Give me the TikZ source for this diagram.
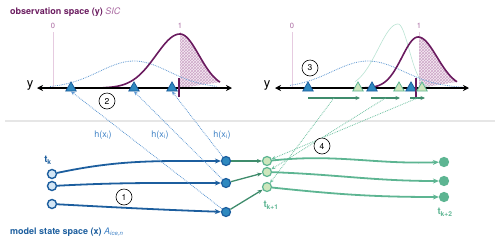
\documentclass[tikz,border=0pt]{standalone}
\usepackage{fontspec}
\setmainfont{TeX Gyre Heros}
\usepackage{tikz}
\usetikzlibrary{positioning,arrows.meta,shapes.geometric,patterns}
\definecolor{obsp}{HTML}{6A1B5F}
\definecolor{obspl}{HTML}{A8679F}
\definecolor{pinkln}{HTML}{E6CBE0}
\definecolor{hatch}{HTML}{CDA6C8}
\definecolor{hatchbg}{HTML}{F6ECF3}
\definecolor{modb}{HTML}{1C5E9E}
\definecolor{modbl}{HTML}{3F82C6}
\definecolor{nodeb}{HTML}{2E89BF}
\definecolor{nodebg}{HTML}{D3E6F5}
\definecolor{dotb}{HTML}{5F98D2}
\definecolor{anag}{HTML}{5DB592}
\definecolor{anagd}{HTML}{3F8C6C}
\definecolor{anabg}{HTML}{CDE6BC}
\definecolor{dotg}{HTML}{6CC09F}
\definecolor{faintg}{HTML}{B9E3D3}
\definecolor{sepgray}{HTML}{E6E6E6}
\tikzset{
  ens/.style={circle,draw=modb,fill=nodebg,line width=1.4pt,inner sep=0pt,minimum size=9pt},
  fcst/.style={circle,draw=modb,fill=nodeb,line width=1.2pt,inner sep=0pt,minimum size=9pt},
  anal/.style={circle,draw=anag,fill=anabg,line width=1.2pt,inner sep=0pt,minimum size=9pt},
  nxt/.style={circle,draw=anag,fill=anag,line width=1.2pt,inner sep=0pt,minimum size=9pt},
  trib/.style={regular polygon,regular polygon sides=3,draw=modb,fill=nodeb,line width=0.8pt,
    inner sep=0pt,minimum size=12pt},
  trig/.style={regular polygon,regular polygon sides=3,draw=anag,fill=anabg,line width=0.8pt,
    inner sep=0pt,minimum size=12pt},
  stp/.style={circle,draw=black,fill=white,line width=0.6pt,inner sep=0pt,minimum size=16pt,
    font=\fontsize{8.5}{8}\selectfont},
  yax/.style={{Stealth[length=6pt,width=6pt]}-{Stealth[length=6pt,width=6pt]},line width=1.6pt},
  runb/.style={-{Stealth[length=6pt,width=5pt]},line width=1.8pt,draw=modb},
  rung/.style={-{Stealth[length=6pt,width=5pt]},line width=1.8pt,draw=anag},
  shortg/.style={-{Stealth[length=5pt,width=4pt]},line width=1.3pt,draw=anagd},
  incr/.style={-{Stealth[length=4.5pt,width=4pt]},line width=1.3pt,draw=anagd},
  hop/.style={-{Stealth[length=4pt,width=3.5pt]},densely dotted,draw=dotb,line width=0.8pt},
  hopg/.style={-{Stealth[length=4pt,width=3.5pt]},densely dotted,draw=dotg,line width=0.8pt},
  lblb/.style={font=\fontsize{9}{9}\selectfont,text=modbl},
  lbltb/.style={font=\fontsize{9.5}{9}\selectfont\bfseries,text=modb},
  lbltg/.style={font=\fontsize{9.5}{9}\selectfont\bfseries,text=anag},
  tick/.style={font=\fontsize{7.5}{7}\selectfont,text=obspl},
}
\begin{document}
\begin{tikzpicture}[x=1pt,y=-1pt]
  \useasboundingbox (0,0) rectangle (500,242);
  % titles
  \node[anchor=west,inner sep=0pt,font=\fontsize{9}{10}\selectfont] (ttl) at (10,12)
    {\textcolor{obsp}{\bfseries observation space (y)} \textcolor{obspl}{\itshape SIC}};
  \node[anchor=west,inner sep=0pt,font=\fontsize{9}{10}\selectfont] (mdl) at (10,232)
    {\textcolor{modb}{\bfseries model state space (x)} \textcolor{modbl}{\itshape A\textsubscript{ice,n}}};
  \draw[sepgray,line width=1.5pt] (5,121) -- (495,121);

  % left panel
  \fill[hatchbg,postaction={pattern=crosshatch,pattern color=hatch}]
    (180,88) -- plot[domain=180:220,samples=40] (\x,{88-54*exp(-((\x-180)^2)/722)}) -- cycle;
  \draw[pinkln,line width=0.8pt] (53,32) -- (53,88);
  \draw[pinkln,line width=0.8pt] (180,32) -- (180,40);
  \node[tick] (z1) at (53,26) {0};
  \node[tick] (o1) at (180,26) {1};
  \draw[dotb,densely dotted,line width=0.8pt]
    plot[domain=50:217,samples=60] (\x,{88-27*exp(-((\x-134)^2)/2450)});
  \draw[obsp,line width=1.6pt]
    plot[domain=103:180,samples=50] (\x,{88-54*exp(-((\x-180)^2)/1152)})
    -- plot[domain=180:220,samples=40] (\x,{88-54*exp(-((\x-180)^2)/722)});
  \draw[yax] (232,88) -- (37,88);
  \node[font=\fontsize{13}{13}\selectfont] (y1) at (30,86) {y};
  \node[trib] (hb1) at (71,88) {};
  \node[trib] (hb2) at (134,88) {};
  \node[trib] (hb3) at (172,88) {};
  \draw[obsp,line width=1.4pt] (179,78) -- (179,97);
  \node[stp] (s2) at (107,101) {2};

  % right panel
  \fill[hatchbg,postaction={pattern=crosshatch,pattern color=hatch}]
    (419,88) -- plot[domain=419:457,samples=40] (\x,{88-51*exp(-((\x-418)^2)/722)}) -- cycle;
  \draw[pinkln,line width=0.8pt] (292,32) -- (292,88);
  \draw[pinkln,line width=0.8pt] (419,32) -- (419,40);
  \node[tick] (z2) at (292,26) {0};
  \node[tick] (o2) at (419,26) {1};
  \draw[faintg,line width=0.6pt]
    plot[domain=355:398,samples=40] (\x,{88-64*exp(-((\x-398)^2)/800)})
    -- plot[domain=398:432,samples=40] (\x,{88-64*exp(-((\x-398)^2)/242)});
  \draw[dotb,densely dotted,line width=0.8pt]
    plot[domain=290:463,samples=60] (\x,{88-27*exp(-((\x-368)^2)/2592)});
  \draw[obsp,line width=1.6pt]
    plot[domain=340:418,samples=50] (\x,{88-51*exp(-((\x-418)^2)/512)})
    -- plot[domain=418:457,samples=40] (\x,{88-51*exp(-((\x-418)^2)/722)});
  \draw[yax] (469,88) -- (275,88);
  \node[font=\fontsize{13}{13}\selectfont] (y2) at (267,86) {y};
  \node[trib] (rb1) at (308,88) {};
  \node[trib] (rb2) at (372,88) {};
  \node[trib] (rb3) at (411,88) {};
  \draw[obsp,line width=1.4pt] (416,78) -- (416,97);
  \node[trig] (ha1) at (358,88) {};
  \node[trig] (ha2) at (399,88) {};
  \node[trig] (ha3) at (422,88) {};
  \draw[incr] (308,98) -- coordinate (m1) (360,98);
  \draw[incr] (371,98) -- coordinate (m2) (400,98);
  \draw[incr] (410,98) -- coordinate (m3) (425,98);
  \node[stp] (s3) at (310,68) {3};

  % model states
  \node[ens] (xk1) at (52,174) {};
  \node[ens] (xk2) at (52,186) {};
  \node[ens] (xk3) at (52,204) {};
  \node[fcst] (xf1) at (226,161) {};
  \node[fcst] (xf2) at (226,183) {};
  \node[fcst] (xf3) at (226,212) {};
  \node[anal] (xa1) at (267,161) {};
  \node[anal] (xa2) at (267,172) {};
  \node[anal] (xa3) at (267,187) {};
  \node[nxt] (xn1) at (444,162) {};
  \node[nxt] (xn2) at (444,181) {};
  \node[nxt] (xn3) at (444,197) {};
  \node[lbltb] (tk) at (48,160) {t\textsubscript{k}};
  \node[lbltg] (tk1) at (271,205) {t\textsubscript{k+1}};
  \node[lbltg] (tk2) at (445,212) {t\textsubscript{k+2}};

  % forecast
  \draw[runb] (xk1) to[out=12,in=180] (xf1);
  \draw[runb] (xk2) to[out=3,in=180] (xf2);
  \draw[runb] (xk3) to[out=-3,in=178] (xf3);
  \node[stp] (s1) at (124,197) {1};

  % observation operator
  \draw[hop] (xf1) -- (hb3.south);
  \draw[hop] (xf2) -- (hb2.south);
  \draw[hop] (xf3) -- (hb1.south);
  \node[lblb] (h1) at (103,135) {h(x\textsubscript{i})};
  \node[lblb] (h2) at (160,135) {h(x\textsubscript{i})};
  \node[lblb] (h3) at (222,135) {h(x\textsubscript{i})};

  % update
  \draw[shortg] (xf1) -- (xa1);
  \draw[shortg] (xf2) -- (xa2);
  \draw[shortg] (xf3) -- (xa3);
  \draw[hopg] (m1) -- (xa3);
  \draw[hopg] (m2) -- (xa2);
  \draw[hopg] (m3) -- (xa1);
  \draw[rung] (xa1) to[out=6,in=182] (xn1);
  \draw[rung] (xa2) to[out=-2,in=180] (xn2);
  \draw[rung] (xa3) to[out=-6,in=180] (xn3);
  \node[stp] (s4) at (322,146) {4};
\end{tikzpicture}
\end{document}
